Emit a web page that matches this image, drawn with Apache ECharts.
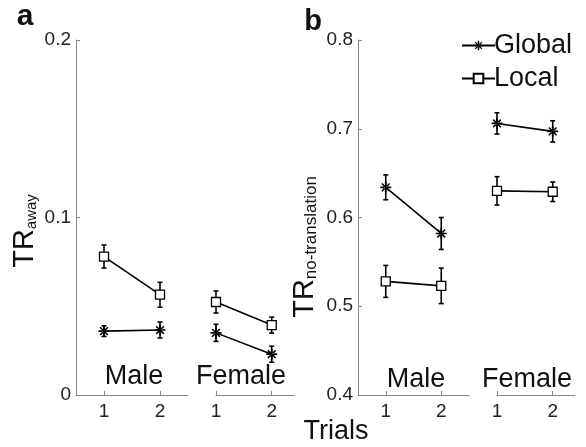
<!DOCTYPE html>
<html>
<head>
<meta charset="UTF-8">
<title>TR by trial</title>
<script src="https://cdn.jsdelivr.net/npm/echarts@6/dist/echarts.min.js"></script>
<style>
    html, body { margin: 0; padding: 0; background: #fff; }
    #chart { width: 586px; height: 447px; }
</style>
</head>
<body>
<div id="chart"></div>
<script>
    var trials = [1, 2];

    // panel a: TR away
    var awayGlobalMale = [0.036, 0.0366];
    var awayGlobalMaleErr = [0.003, 0.0045];
    var awayLocalMale = [0.078, 0.0565];
    var awayLocalMaleErr = [0.0065, 0.007];
    var awayGlobalFemale = [0.035, 0.023];
    var awayGlobalFemaleErr = [0.0048, 0.0045];
    var awayLocalFemale = [0.0524, 0.0394];
    var awayLocalFemaleErr = [0.0062, 0.0045];

    // panel b: TR no-translation
    var ntGlobalMale = [0.634, 0.582];
    var ntGlobalMaleErr = [0.014, 0.018];
    var ntLocalMale = [0.528, 0.523];
    var ntLocalMaleErr = [0.018, 0.02];
    var ntGlobalFemale = [0.706, 0.697];
    var ntGlobalFemaleErr = [0.012, 0.012];
    var ntLocalFemale = [0.630, 0.629];
    var ntLocalFemaleErr = [0.016, 0.011];

    var FONT = 'Liberation Sans, Arial, sans-serif';
    // asterisk marker, arms as thin bars
    var star = 'path://M-1.5,-10 L1.5,-10 L1.5,10 L-1.5,10 Z M-10,-1.5 L10,-1.5 L10,1.5 L-10,1.5 Z ' +
        'M-6,-8 L8,6 L6,8 L-8,-6 Z M-6,8 L8,-6 L6,-8 L-8,6 Z';

    function line(name, values, idx) {
        var isGlobal = name === 'Global';
        return {
            type: 'line',
            name: name,
            xAxisIndex: idx,
            yAxisIndex: idx,
            data: trials.map(function (t, i) { return [t, values[i]]; }),
            symbol: isGlobal ? star : 'rect',
            symbolSize: isGlobal ? 11 : 9,
            itemStyle: isGlobal ? { color: '#000' } : { color: '#fff', borderColor: '#000', borderWidth: 1.3 },
            lineStyle: { color: '#000', width: 1.6 },
            z: 3
        };
    }

    function errorBars(values, errs, idx) {
        return {
            type: 'custom',
            xAxisIndex: idx,
            yAxisIndex: idx,
            silent: true,
            z: 2,
            data: trials.map(function (t, i) { return [t, values[i] - errs[i], values[i] + errs[i]]; }),
            renderItem: function (params, api) {
                var lo = api.coord([api.value(0), api.value(1)]);
                var hi = api.coord([api.value(0), api.value(2)]);
                var w = 2.5;
                var st = { stroke: '#000', lineWidth: 1.6 };
                return {
                    type: 'group',
                    children: [
                        { type: 'line', shape: { x1: lo[0], y1: lo[1], x2: hi[0], y2: hi[1] }, style: st },
                        { type: 'line', shape: { x1: lo[0] - w, y1: lo[1], x2: lo[0] + w, y2: lo[1] }, style: st },
                        { type: 'line', shape: { x1: hi[0] - w, y1: hi[1], x2: hi[0] + w, y2: hi[1] }, style: st }
                    ]
                };
            }
        };
    }

    function xAxis(idx, min, max) {
        return {
            type: 'value', gridIndex: idx, min: min, max: max,
            axisLine: { lineStyle: { color: '#888', width: 1 } },
            axisTick: { inside: true, length: 4, customValues: trials, lineStyle: { color: '#888' } },
            axisLabel: { customValues: trials, fontSize: 19, color: '#222', fontFamily: FONT, margin: 7 },
            splitLine: { show: false }
        };
    }

    function yAxis(idx, min, max, show) {
        return {
            type: 'value', gridIndex: idx, min: min, max: max, interval: 0.1, show: show,
            axisLine: { show: true, lineStyle: { color: '#888', width: 1 } },
            axisTick: { show: true, inside: true, length: 4, lineStyle: { color: '#888' } },
            axisLabel: { fontSize: 19, color: '#222', fontFamily: FONT, margin: 5 },
            splitLine: { show: false }
        };
    }

    function label(text, x, y, size, bold) {
        return {
            type: 'text', x: x, y: y,
            style: { text: text, fontSize: size, fontFamily: FONT, fontWeight: bold ? 'bold' : 'normal',
                     fill: '#111', align: 'center', verticalAlign: 'middle' }
        };
    }

    function yTitle(sub, x, y, subSize) {
        return {
            type: 'text', x: x, y: y, rotation: Math.PI / 2,
            style: {
                text: '{m|TR}{s|' + sub + '}',
                align: 'center', verticalAlign: 'middle',
                rich: {
                    m: { fontSize: 29, fontFamily: FONT, fill: '#111', lineHeight: 29 },
                    s: { fontSize: subSize, fontFamily: FONT, fill: '#111', lineHeight: subSize, verticalAlign: 'bottom' }
                }
            }
        };
    }

    var chart = echarts.init(document.getElementById('chart'));
    chart.setOption({
        animation: false,
        grid: [
            { left: 76, top: 40, width: 112, height: 355 },
            { left: 216, top: 40, width: 78, height: 355 },
            { left: 358, top: 40, width: 111, height: 355 },
            { left: 497, top: 40, width: 78, height: 355 }
        ],
        xAxis: [xAxis(0, 0.5, 2.5), xAxis(1, 1, 2.4), xAxis(2, 0.5, 2.5), xAxis(3, 1, 2.4)],
        yAxis: [yAxis(0, 0, 0.2, true), yAxis(1, 0, 0.2, false), yAxis(2, 0.4, 0.8, true), yAxis(3, 0.4, 0.8, false)],
        legend: {
            data: ['Global', 'Local'],
            orient: 'vertical',
            left: 456, top: 27,
            itemWidth: 33, itemHeight: 12, itemGap: 6,
            textStyle: { fontSize: 27, fontFamily: FONT, color: '#111', padding: [0, 0, 0, -6] }
        },
        series: [
            errorBars(awayGlobalMale, awayGlobalMaleErr, 0), line('Global', awayGlobalMale, 0),
            errorBars(awayLocalMale, awayLocalMaleErr, 0), line('Local', awayLocalMale, 0),
            errorBars(awayGlobalFemale, awayGlobalFemaleErr, 1), line('Global', awayGlobalFemale, 1),
            errorBars(awayLocalFemale, awayLocalFemaleErr, 1), line('Local', awayLocalFemale, 1),
            errorBars(ntGlobalMale, ntGlobalMaleErr, 2), line('Global', ntGlobalMale, 2),
            errorBars(ntLocalMale, ntLocalMaleErr, 2), line('Local', ntLocalMale, 2),
            errorBars(ntGlobalFemale, ntGlobalFemaleErr, 3), line('Global', ntGlobalFemale, 3),
            errorBars(ntLocalFemale, ntLocalFemaleErr, 3), line('Local', ntLocalFemale, 3)
        ],
        graphic: [
            label('a', 25, 17, 30, true),
            label('b', 313, 22, 29, true),
            label('Male', 134, 377, 27),
            label('Female', 241, 377, 27),
            label('Male', 416, 380, 27),
            label('Female', 527, 380, 27),
            label('Trials', 336, 432, 27),
            yTitle('away', 25, 231, 15),
            yTitle('no-translation', 305, 247, 17)
        ]
    });
</script>
</body>
</html>
